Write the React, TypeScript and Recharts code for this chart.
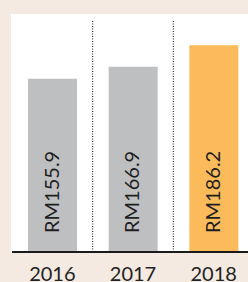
import { BarChart, Bar, XAxis, YAxis, CartesianGrid, Cell, LabelList } from 'recharts';

const years = ['2016', '2017', '2018'];
const revenue = [155.9, 166.9, 186.2];
const barColors = ['#bebfc1', '#bebfc1', '#fbbb5a'];

const data = years.map((year, i) => ({ year, value: revenue[i] }));

const FONT = "Lato, 'Open Sans', sans-serif";

const BarLabel = (props: any) => {
  const { x, y, width, height, value } = props;
  const cx = x + width / 2 + 6;
  const by = y + height - 19;
  return (
    <text
      x={cx}
      y={by}
      transform={`rotate(-90 ${cx} ${by})`}
      textAnchor="start"
      fill="#1e1e1e"
      fontSize={20}
      fontFamily={FONT}
    >
      {`RM${value.toFixed(1)}`}
    </text>
  );
};

export default function App() {
  return (
    <div style={{ position: 'absolute', left: 0, top: 0, width: 248, height: 282, background: '#f4eae1', overflow: 'hidden' }}>
      <div style={{ position: 'absolute', left: 11, top: 14, width: 237, height: 239, background: '#ffffff' }} />
      <div style={{ position: 'absolute', left: 0, top: 0 }}>
        <BarChart width={260} height={282} data={data} margin={{ top: 21, right: 6, left: 12, bottom: 0 }}>
          <CartesianGrid
            horizontal={false}
            stroke="#111"
            strokeDasharray="1 1.5"
            verticalCoordinatesGenerator={({ offset }: any) => [
              offset.left + offset.width / 3,
              offset.left + (offset.width * 2) / 3,
            ]}
          />
          <XAxis
            dataKey="year"
            height={30}
            tickLine={false}
            axisLine={{ stroke: '#1a1a1a', strokeWidth: 2 }}
            tickMargin={9}
            tick={{ fill: '#222', fontSize: 20, fontFamily: FONT }}
          />
          <YAxis hide domain={[0, 208]} />
          <Bar dataKey="value" barSize={49} isAnimationActive={false}>
            {data.map((d, i) => (
              <Cell key={d.year} fill={barColors[i]} />
            ))}
            <LabelList dataKey="value" content={BarLabel} />
          </Bar>
        </BarChart>
      </div>
    </div>
  );
}
